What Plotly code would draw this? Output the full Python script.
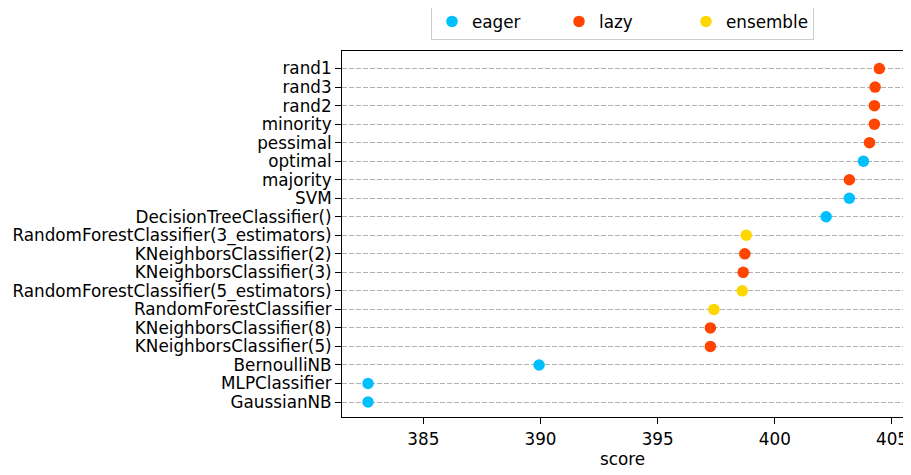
import plotly.graph_objects as go

models = ["rand1", "rand3", "rand2", "minority", "pessimal", "optimal", "majority", "SVM",
          "DecisionTreeClassifier()", "RandomForestClassifier(3_estimators)",
          "KNeighborsClassifier(2)", "KNeighborsClassifier(3)",
          "RandomForestClassifier(5_estimators)", "RandomForestClassifier",
          "KNeighborsClassifier(8)", "KNeighborsClassifier(5)", "BernoulliNB",
          "MLPClassifier", "GaussianNB"]
scores = [404.46, 404.28, 404.25, 404.25, 404.04, 403.78, 403.18, 403.18,
          402.19, 398.78, 398.72, 398.65, 398.61, 397.40, 397.25, 397.25,
          389.94, 382.64, 382.64]
kinds = ["lazy", "lazy", "lazy", "lazy", "lazy", "eager", "lazy", "eager",
         "eager", "ensemble", "lazy", "lazy", "ensemble", "ensemble", "lazy", "lazy",
         "eager", "eager", "eager"]
kind_order = ["eager", "lazy", "ensemble"]
kind_colors = {"eager": "#00BFFF", "lazy": "#FF4500", "ensemble": "#FFD700"}
x_ticks = [385, 390, 395, 400, 405]

FONT = "DejaVu Sans"
FS = 16.8
fig = go.Figure()
for k in kind_order:
    xs = [s for s, t in zip(scores, kinds) if t == k]
    ys = [m for m, t in zip(models, kinds) if t == k]
    fig.add_trace(go.Scatter(
        x=xs, y=ys, mode="markers", name=k,
        marker=dict(color=kind_colors[k], size=11.5, line=dict(width=0)),
    ))

# page body has an 8px margin, so the figure is 8px smaller and offsets reduced
fig.update_layout(
    width=903, height=467,
    margin=dict(l=334, r=8, t=43, b=58, autoexpand=False),
    paper_bgcolor="white", plot_bgcolor="white",
    font=dict(family=FONT, size=FS, color="black"),
    legend=dict(
        orientation="h", x=0.5, xanchor="center", y=1.03, yanchor="bottom",
        bordercolor="#cccccc", borderwidth=1, font=dict(size=FS),
        itemwidth=30, entrywidthmode="pixels", entrywidth=82,
    ),
    showlegend=True,
)
fig.update_xaxes(
    range=[381.53, 405.47], tickvals=x_ticks, ticktext=[str(v) for v in x_ticks],
    showgrid=False, zeroline=False,
    showline=True, linecolor="black", linewidth=1, mirror=True,
    ticks="outside", ticklen=6, tickcolor="black", tickwidth=1,
    ticklabelstandoff=1,
    title=dict(text="score", font=dict(size=FS), standoff=5),
)
fig.update_yaxes(
    type="category", categoryorder="array", categoryarray=models[::-1],
    tickmode="array", tickvals=models, ticktext=models,
    range=[-0.81, 18.95],
    showgrid=True, gridcolor="#b0b0b0", gridwidth=1, griddash="5px,2px",
    zeroline=False,
    showline=True, linecolor="black", linewidth=1, mirror=True,
    ticks="outside", ticklen=6, tickcolor="black", tickwidth=1,
)

fig.write_html("out.html")
